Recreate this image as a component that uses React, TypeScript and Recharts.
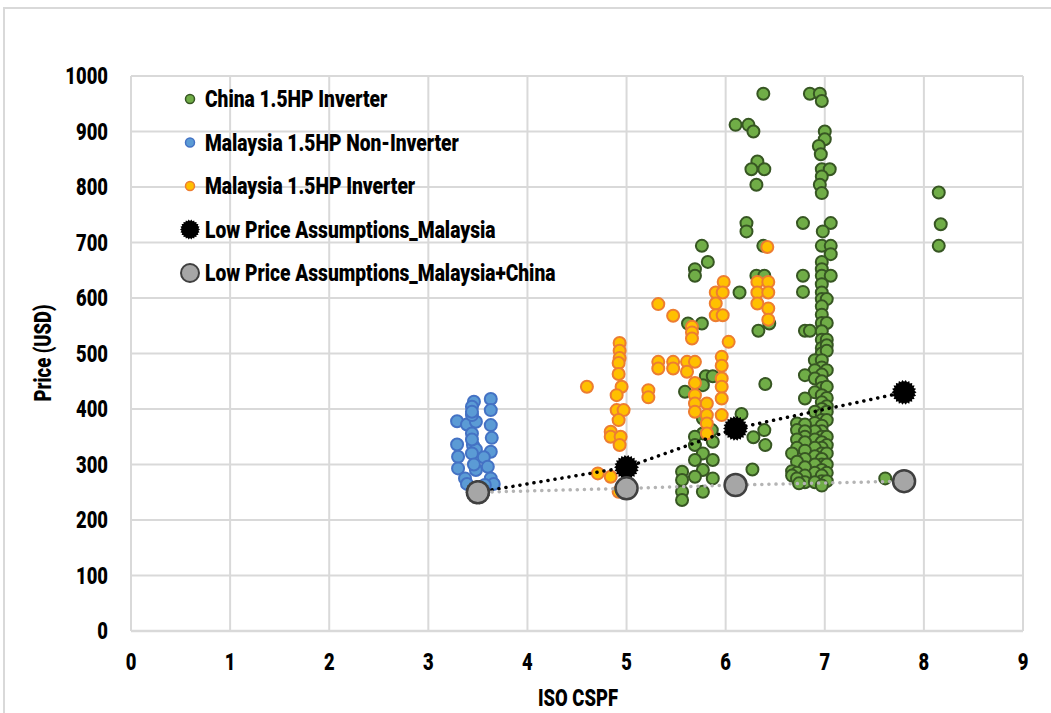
import { ScatterChart, Scatter, XAxis, YAxis, CartesianGrid, Legend } from 'recharts'

// ── Data ─────────────────────────────────────────────────────────────────────

type Pt = [number, number]

const xTicks = [0, 1, 2, 3, 4, 5, 6, 7, 8, 9]
const yTicks = [0, 100, 200, 300, 400, 500, 600, 700, 800, 900, 1000]

const chinaInverter: Pt[] = [
  [6.38, 968], [6.85, 968], [6.95, 968], [6.97, 955],
  [6.1, 912], [6.23, 912], [6.28, 900],
  [7.0, 900], [7.0, 886], [6.94, 874], [6.96, 859],
  [6.32, 846], [6.26, 832], [6.39, 832], [6.97, 832], [7.05, 832], [6.97, 819],
  [6.31, 804], [6.95, 804], [6.97, 789],
  [6.21, 735], [6.21, 720], [6.78, 735], [7.06, 735], [6.98, 720],
  [8.15, 790], [8.17, 733], [8.15, 694],
  [5.76, 694], [6.38, 694], [6.97, 694], [7.06, 694], [7.06, 679],
  [5.82, 665], [6.97, 665], [5.69, 652], [6.97, 652], [5.69, 640], [6.31, 640], [6.39, 640],
  [6.78, 640], [6.97, 640], [7.06, 640],
  [6.14, 610], [6.78, 611], [6.97, 625], [6.97, 610], [6.97, 598], [7.02, 598], [6.97, 585],
  [6.97, 570], [6.97, 555], [7.02, 555],
  [5.62, 554], [5.76, 554], [6.44, 554], [6.33, 541], [6.8, 541], [6.85, 541],
  [6.97, 540], [6.97, 525], [7.02, 525], [6.97, 510], [7.02, 515], [6.97, 500], [7.02, 505],
  [6.9, 488], [6.97, 488], [6.97, 475], [7.02, 470], [6.9, 470], [6.8, 461], [6.97, 462],
  [5.8, 459], [5.87, 459], [6.9, 455], [6.97, 450], [6.4, 445], [5.77, 443], [6.97, 438],
  [7.02, 440], [5.59, 431], [6.9, 430], [6.97, 425], [7.02, 420], [6.8, 419], [6.97, 412],
  [7.02, 405], [6.97, 400], [6.9, 395], [6.16, 391], [6.97, 390], [7.02, 395], [5.77, 383],
  [6.97, 380], [7.02, 380], [6.72, 374], [6.9, 375], [6.8, 372], [6.97, 370], [6.72, 362],
  [5.86, 362], [6.39, 362], [6.97, 360], [6.9, 360], [6.8, 360], [5.77, 356], [5.69, 350],
  [6.28, 349], [6.97, 350], [7.02, 350], [6.8, 350], [6.72, 345], [6.9, 345], [5.87, 341],
  [6.97, 340], [6.8, 340], [5.69, 335], [6.4, 335], [7.02, 335], [6.97, 330], [6.9, 330],
  [6.72, 330], [6.8, 325], [6.97, 320], [6.67, 320], [5.77, 320], [7.02, 320], [6.9, 315],
  [6.8, 310], [6.97, 310], [5.69, 308], [5.87, 308], [6.72, 305], [6.97, 300], [7.02, 300],
  [6.9, 300], [6.8, 295], [6.27, 291], [5.77, 290], [6.97, 290], [5.56, 287], [6.67, 288],
  [6.9, 285], [7.02, 285], [6.72, 285], [6.97, 280], [6.8, 280], [6.67, 280], [5.69, 278],
  [5.87, 275], [6.72, 275], [7.61, 275], [5.56, 272], [6.97, 270], [7.02, 270], [6.8, 268],
  [6.9, 268], [6.74, 266], [6.97, 262], [5.56, 251], [5.77, 251], [5.56, 236],
]

const malaysiaNonInverter: Pt[] = [
  [3.46, 413], [3.63, 418], [3.44, 404], [3.63, 398], [3.29, 378], [3.39, 372], [3.48, 377],
  [3.44, 389], [3.63, 371], [3.44, 356], [3.64, 348], [3.29, 336], [3.45, 335], [3.48, 327],
  [3.44, 320], [3.63, 323], [3.3, 314], [3.56, 313], [3.3, 293], [3.48, 290], [3.6, 296],
  [3.37, 275], [3.63, 275], [3.39, 265], [3.66, 265], [3.57, 263], [3.44, 395], [3.44, 345],
  [3.46, 300], [3.52, 255],
]

const malaysiaInverter: Pt[] = [
  [4.6, 440], [4.93, 519], [4.93, 505], [4.93, 492], [4.92, 483], [4.92, 463], [4.95, 440],
  [4.9, 425], [4.9, 398], [4.97, 398], [4.92, 380], [4.84, 359], [4.84, 350], [4.94, 350],
  [4.93, 335], [4.71, 284], [4.84, 278], [4.92, 251],
  [5.22, 434], [5.22, 421], [5.32, 589], [5.47, 568], [5.32, 485], [5.32, 473], [5.47, 485],
  [5.47, 473], [5.61, 485], [5.61, 467], [5.69, 485], [5.66, 548], [5.66, 538], [5.66, 527],
  [5.69, 447], [5.69, 425], [5.69, 410], [5.69, 395], [5.81, 410], [5.81, 389], [5.81, 374],
  [5.81, 356], [5.96, 494], [5.96, 478], [5.96, 455], [5.96, 440], [5.96, 419], [5.96, 389],
  [6.03, 521], [5.98, 629], [5.9, 610], [5.97, 610], [5.9, 590], [5.9, 569], [5.97, 569],
  [6.32, 629], [6.43, 629], [6.32, 610], [6.43, 610], [6.32, 590], [6.43, 581], [6.43, 561],
  [6.42, 692],
]

const lowPriceMalaysia: Pt[] = [[3.5, 250], [5.0, 295], [6.1, 365], [7.8, 430]]
const lowPriceMalaysiaChina: Pt[] = [[3.5, 250], [5.0, 257], [6.1, 263], [7.8, 270]]

// ── Helpers ──────────────────────────────────────────────────────────────────

const FONT = "Roboto, 'DejaVu Sans', sans-serif"
const NARROW = 0.8
const GRID = '#d9d9d9'

const toRows = (pts: Pt[]) => pts.map(([x, y]) => ({ x, y }))

function burstPoints(cx: number, cy: number, outer: number, inner: number, spikes = 22) {
  const pts: string[] = []
  for (let i = 0; i < spikes * 2; i++) {
    const r = i % 2 === 0 ? outer : inner
    const a = (Math.PI * i) / spikes
    pts.push(`${cx + r * Math.cos(a)},${cy + r * Math.sin(a)}`)
  }
  return pts.join(' ')
}

// condensed heavy text, squeezed horizontally
function CText({ x, y, anchor = 'start', size = 23, children }: any) {
  return (
    <text
      transform={`translate(${x},${y}) scale(${NARROW},1)`}
      textAnchor={anchor}
      fontFamily={FONT}
      fontWeight={900}
      fontSize={size}
      fill="#000"
    >
      {children}
    </text>
  )
}

const xTick = (p: any) => <CText x={p.x} y={p.y + 16} anchor="middle">{p.payload.value}</CText>
const yTick = (p: any) => <CText x={p.x} y={p.y + 8} anchor="end">{p.payload.value}</CText>

const dot = (fill: string, stroke: string) => (p: any) =>
  <circle cx={p.cx} cy={p.cy} r={6} fill={fill} stroke={stroke} strokeWidth={2} />

const burst = (p: any) => <polygon points={burstPoints(p.cx, p.cy, 12.5, 10.5)} fill="#000" />

const grayDot = (p: any) =>
  <circle cx={p.cx} cy={p.cy} r={11} fill="#a6a6a6" stroke="#404040" strokeWidth={2.5} />

const SERIES = [
  { name: 'China 1.5HP Inverter', kind: 'dot', fill: '#70ad47', stroke: '#375623' },
  { name: 'Malaysia 1.5HP Non-Inverter', kind: 'dot', fill: '#5b9bd5', stroke: '#4472c4' },
  { name: 'Malaysia 1.5HP Inverter', kind: 'dot', fill: '#ffc000', stroke: '#ed7d31' },
  { name: 'Low Price Assumptions_Malaysia', kind: 'burst', fill: '#000', stroke: '#000' },
  { name: 'Low Price Assumptions_Malaysia+China', kind: 'gray', fill: '#a6a6a6', stroke: '#404040' },
]

function LegendBox() {
  return (
    <svg width={420} height={200} style={{ display: 'block' }}>
      {SERIES.map((s, i) => {
        const cy = 13 + i * 43.5
        const cx = 14
        let mark
        if (s.kind === 'dot') mark = <circle cx={cx} cy={cy} r={4.5} fill={s.fill} stroke={s.stroke} strokeWidth={1.5} />
        else if (s.kind === 'burst') mark = <polygon points={burstPoints(cx, cy, 10, 8.5)} fill="#000" />
        else mark = <circle cx={cx} cy={cy} r={9} fill={s.fill} stroke={s.stroke} strokeWidth={2} />
        return (
          <g key={s.name}>
            {mark}
            <CText x={29} y={cy + 8} size={24}>{s.name}</CText>
          </g>
        )
      })}
    </svg>
  )
}

// ── Component ────────────────────────────────────────────────────────────────

export default function App() {
  return (
    <div style={{ position: 'relative', width: 1051, height: 713, overflow: 'hidden', background: '#fff' }}>
      <style>{'body{margin:0}'}</style>
      <div
        style={{
          position: 'absolute', left: 3, top: 7, width: 1200, height: 900,
          borderLeft: `2px solid ${GRID}`, borderTop: `2px solid ${GRID}`,
        }}
      />
      <div style={{ position: 'absolute', left: 0, top: 0 }}>
        <ScatterChart width={1051} height={713} margin={{ top: 76, right: 28, bottom: 52, left: 31 }}>
          <CartesianGrid stroke={GRID} strokeWidth={2} />
          <XAxis
            type="number"
            dataKey="x"
            domain={[0, 9]}
            ticks={xTicks}
            interval={0}
            height={30}
            tick={xTick}
            tickLine={false}
            tickMargin={17}
            axisLine={{ stroke: GRID, strokeWidth: 2.5 }}
            label={{ content: () => <CText x={578} y={706} anchor="middle">ISO CSPF</CText> }}
          />
          <YAxis
            type="number"
            dataKey="y"
            domain={[0, 1000]}
            ticks={yTicks}
            interval={0}
            width={100}
            tick={yTick}
            tickLine={false}
            tickMargin={17}
            axisLine={{ stroke: GRID, strokeWidth: 2 }}
            label={{
              content: () => (
                <g transform="translate(51,353) rotate(-90)">
                  <CText x={0} y={0} anchor="middle">Price (USD)</CText>
                </g>
              ),
            }}
          />
          <Legend
            layout="horizontal"
            verticalAlign="middle"
            align="center"
            wrapperStyle={{ left: 176, top: 86, width: 420 }}
            content={() => <LegendBox />}
          />
          <Scatter name={SERIES[0].name} data={toRows(chinaInverter)} fill={SERIES[0].fill}
            shape={dot(SERIES[0].fill, SERIES[0].stroke)} isAnimationActive={false} />
          <Scatter name={SERIES[1].name} data={toRows(malaysiaNonInverter)} fill={SERIES[1].fill}
            shape={dot(SERIES[1].fill, SERIES[1].stroke)} isAnimationActive={false} />
          <Scatter name={SERIES[2].name} data={toRows(malaysiaInverter)} fill={SERIES[2].fill}
            shape={dot(SERIES[2].fill, SERIES[2].stroke)} isAnimationActive={false} />
          <Scatter
            name={SERIES[3].name}
            data={toRows(lowPriceMalaysia)}
            fill="#000"
            line={{ stroke: '#000', strokeWidth: 3.5, strokeDasharray: '0.1 7', strokeLinecap: 'round' }}
            shape={burst}
            isAnimationActive={false}
          />
          <Scatter
            name={SERIES[4].name}
            data={toRows(lowPriceMalaysiaChina)}
            fill="#a6a6a6"
            line={{ stroke: '#b4b4b4', strokeWidth: 3.5, strokeDasharray: '0.1 7', strokeLinecap: 'round' }}
            shape={grayDot}
            isAnimationActive={false}
          />
        </ScatterChart>
      </div>
    </div>
  )
}
